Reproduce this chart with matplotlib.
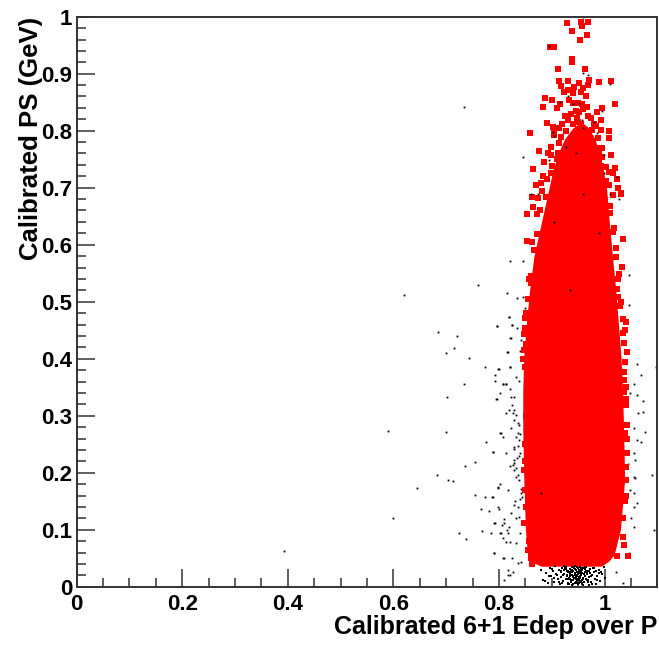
import numpy as np
import matplotlib
matplotlib.use("Agg")
import matplotlib.pyplot as plt
from matplotlib.ticker import MultipleLocator, FormatStrFormatter

plt.rcParams['font.family'] = ['Liberation Sans', 'DejaVu Sans']
plt.rcParams['font.weight'] = 'bold'

# dense red core, read as left/right edge per PS level
core_y = [0.036, 0.045, 0.056, 0.100, 0.188, 0.275, 0.346, 0.404, 0.463,
          0.521, 0.579, 0.638, 0.696, 0.730, 0.760, 0.785, 0.805, 0.815]
core_left = [0.880, 0.858, 0.854, 0.850, 0.847, 0.845, 0.845, 0.847, 0.852,
             0.858, 0.866, 0.880, 0.894, 0.902, 0.912, 0.924, 0.940, 0.955]
core_right = [0.994, 1.008, 1.018, 1.030, 1.038, 1.036, 1.034, 1.031, 1.026,
              1.021, 1.015, 1.009, 1.004, 0.998, 0.990, 0.982, 0.970, 0.957]

# red squares outside the core (sparse top and ragged edges)
red_x = [0.928, 0.955, 0.968, 0.957, 0.939, 0.966, 0.953, 0.896, 0.904, 0.939,
         0.939, 0.911, 0.962, 0.914, 0.931, 0.951, 0.970, 0.990, 1.013, 0.917,
         0.942, 0.960, 0.968, 0.923, 0.931, 0.940, 0.955, 0.964, 0.887, 0.900,
         0.932, 0.940, 0.949, 0.957, 0.883, 0.910, 0.915, 0.966, 1.019, 0.996,
         0.936, 0.951, 0.968, 0.985, 0.930, 0.949, 0.974, 0.994, 0.891, 0.902,
         0.914, 0.940, 0.955, 0.979, 0.859, 0.904, 0.927, 0.951, 0.977, 0.994,
         1.009, 0.917, 0.936, 0.964, 0.987, 1.008, 0.876, 0.898, 0.914, 0.985,
         0.996, 0.898, 0.911, 0.930, 0.996, 0.989, 0.864, 0.898, 0.917, 1.002,
         1.008, 0.879, 0.904, 0.989, 1.008, 1.024, 0.862, 0.889, 1.015, 1.032,
         0.853, 0.872, 0.864, 0.874, 1.032, 0.853, 0.862, 1.034, 1.033, 0.856,
         0.860, 1.023, 1.026, 0.851, 1.041, 0.849, 0.848, 1.038, 1.036, 1.043,
         1.036, 1.040, 1.036, 1.040, 1.043, 1.043, 1.041, 1.034, 1.036, 1.045,
         1.024, 0.848, 0.866, 0.855, 0.852, 0.850, 1.039, 1.042, 0.846, 0.849,
         0.945, 0.960, 0.975, 0.925, 0.948, 0.983, 0.920, 0.958, 0.978, 0.905,
         0.945, 0.968, 0.990, 0.910, 0.935, 0.962, 0.982, 0.900, 0.925, 0.950,
         0.972, 0.993, 0.890, 0.922, 0.955, 0.985, 1.003, 0.882, 0.912, 0.945,
         1.000, 1.010, 0.878, 0.890, 1.010, 1.018, 0.872, 0.880, 1.016, 1.022,
         0.866, 0.875, 1.021, 1.028, 0.860, 0.866, 1.026, 1.031, 0.855, 0.858,
         1.030, 1.035, 0.850, 0.852, 1.034, 1.038, 0.848, 1.037, 1.040, 0.849,
         0.850, 1.038, 1.041, 0.847, 1.040, 0.851, 1.035, 1.028, 0.856, 0.860,
         1.022, 1.012, 0.868, 0.870, 0.862, 0.885, 0.893, 1.012, 1.020, 0.870,
         1.025, 0.884, 1.015]
red_y = [0.989, 0.991, 0.991, 0.984, 0.975, 0.968, 0.960, 0.946, 0.947, 0.926,
         0.921, 0.909, 0.909, 0.888, 0.888, 0.884, 0.889, 0.886, 0.888, 0.879,
         0.877, 0.875, 0.881, 0.868, 0.872, 0.866, 0.868, 0.861, 0.858, 0.853,
         0.854, 0.849, 0.849, 0.847, 0.842, 0.840, 0.846, 0.842, 0.846, 0.839,
         0.830, 0.832, 0.826, 0.832, 0.819, 0.816, 0.823, 0.819, 0.814, 0.807,
         0.805, 0.811, 0.811, 0.811, 0.796, 0.796, 0.800, 0.802, 0.802, 0.802,
         0.800, 0.789, 0.788, 0.789, 0.788, 0.788, 0.765, 0.772, 0.779, 0.770,
         0.770, 0.758, 0.761, 0.763, 0.754, 0.749, 0.733, 0.726, 0.735, 0.737,
         0.728, 0.709, 0.705, 0.709, 0.705, 0.716, 0.684, 0.684, 0.688, 0.691,
         0.653, 0.653, 0.667, 0.682, 0.689, 0.607, 0.605, 0.610, 0.561, 0.540,
         0.533, 0.523, 0.509, 0.481, 0.465, 0.454, 0.444, 0.451, 0.428, 0.412,
         0.377, 0.351, 0.342, 0.319, 0.284, 0.235, 0.188, 0.088, 0.074, 0.054,
         0.053, 0.112, 0.060, 0.065, 0.300, 0.220, 0.150, 0.260, 0.400, 0.170,
         0.835, 0.838, 0.822, 0.825, 0.823, 0.808, 0.812, 0.795, 0.780, 0.792,
         0.776, 0.774, 0.764, 0.750, 0.745, 0.742, 0.752, 0.738, 0.722, 0.718,
         0.722, 0.738, 0.715, 0.700, 0.698, 0.702, 0.712, 0.695, 0.678, 0.672,
         0.676, 0.668, 0.660, 0.640, 0.655, 0.630, 0.618, 0.598, 0.622, 0.595,
         0.590, 0.565, 0.578, 0.548, 0.545, 0.520, 0.540, 0.500, 0.505, 0.478,
         0.492, 0.470, 0.472, 0.425, 0.445, 0.395, 0.415, 0.362, 0.330, 0.385,
         0.250, 0.270, 0.210, 0.205, 0.160, 0.140, 0.120, 0.130, 0.080, 0.050,
         0.100, 0.065, 0.045, 0.070, 0.040, 0.745, 0.760, 0.758, 0.735, 0.705,
         0.700, 0.720, 0.725]

# black events outside the red selection
blk_x = [0.684, 0.721, 0.699, 0.714, 0.744, 0.773, 0.733, 0.701, 0.589, 0.700,
         0.776, 0.789, 0.755, 0.735, 0.682, 0.704, 0.713, 0.644, 0.755, 0.774,
         0.787, 0.765, 0.782, 0.599, 0.793, 0.768, 0.724, 0.738, 0.791, 0.392,
         0.808, 0.825, 0.817, 0.821, 0.810, 0.796, 0.819, 0.825, 0.800, 0.821,
         0.793, 0.793, 0.808, 0.814, 0.802, 0.797, 0.815, 0.821, 0.801, 0.808,
         0.801, 0.799, 0.800, 0.801, 0.808, 0.805, 0.810, 0.815, 0.817, 0.814,
         0.820, 0.823, 0.829, 0.821, 0.829, 0.832, 0.826, 0.824, 0.829, 0.836,
         0.823, 0.836, 0.832, 0.838, 0.829, 0.836, 0.840, 0.835, 0.829, 0.829,
         0.826, 0.820, 0.832, 0.829, 0.836, 0.833, 0.838, 0.842, 0.843, 0.840,
         0.829, 0.836, 0.823, 0.832, 0.837, 0.840, 0.832, 0.836, 0.826, 0.830,
         0.837, 0.829, 0.839, 0.838, 0.842, 0.795, 0.813, 0.819, 0.804, 0.789,
         0.813, 0.798, 0.817, 0.789, 0.798, 0.791, 0.810, 0.819, 0.785, 0.804,
         0.791, 0.810, 0.817, 0.842, 0.821, 0.845, 0.815, 0.834, 0.845, 0.849,
         0.819, 0.796, 0.825, 0.834, 0.823, 0.842, 0.817, 0.840, 0.798, 0.821,
         0.808, 0.814, 0.832, 0.838, 0.733, 0.845, 0.761, 0.621,
         1.062, 1.073, 1.049, 1.064, 1.072, 1.055, 1.077, 1.062, 1.068, 1.055,
         1.058, 1.090, 1.055, 1.058, 1.049, 1.055, 1.062, 1.055, 1.055, 1.093,
         1.021, 1.034, 1.047, 1.047, 1.062, 1.098, 1.068, 1.055, 1.028, 1.046,
         1.050, 1.044]
blk_y = [0.447, 0.439, 0.410, 0.418, 0.402, 0.386, 0.356, 0.332, 0.274, 0.271,
         0.254, 0.237, 0.219, 0.212, 0.196, 0.188, 0.185, 0.174, 0.161, 0.158,
         0.158, 0.137, 0.132, 0.121, 0.111, 0.097, 0.095, 0.084, 0.060, 0.062,
         0.051, 0.051, 0.021, 0.021, 0.011, 0.458, 0.474, 0.460, 0.382, 0.386,
         0.372, 0.361, 0.356, 0.356, 0.340, 0.330, 0.412, 0.437, 0.270, 0.263,
         0.181, 0.174, 0.137, 0.095, 0.086, 0.109, 0.118, 0.100, 0.095, 0.079,
         0.079, 0.333, 0.333, 0.346, 0.310, 0.302, 0.305, 0.318, 0.293, 0.288,
         0.279, 0.270, 0.263, 0.258, 0.245, 0.247, 0.235, 0.225, 0.223, 0.217,
         0.214, 0.211, 0.209, 0.205, 0.196, 0.193, 0.188, 0.165, 0.158, 0.153,
         0.144, 0.140, 0.130, 0.121, 0.123, 0.095, 0.077, 0.042, 0.025, 0.150,
         0.229, 0.241, 0.268, 0.283, 0.172, 0.330, 0.305, 0.310, 0.270, 0.237,
         0.235, 0.175, 0.170, 0.158, 0.139, 0.112, 0.112, 0.104, 0.095, 0.095,
         0.060, 0.051, 0.029, 0.044, 0.572, 0.572, 0.516, 0.507, 0.509, 0.489,
         0.473, 0.458, 0.460, 0.454, 0.437, 0.433, 0.412, 0.414, 0.382, 0.386,
         0.356, 0.356, 0.368, 0.361, 0.842, 0.753, 0.530, 0.511,
         0.337, 0.325, 0.340, 0.305, 0.307, 0.279, 0.272, 0.258, 0.254, 0.235,
         0.223, 0.196, 0.193, 0.191, 0.170, 0.165, 0.147, 0.139, 0.104, 0.100,
         0.026, 0.007, 0.546, 0.495, 0.391, 0.386, 0.372, 0.356, 0.681, 0.060,
         0.120, 0.215]

# black pile-up below the red core (PS < 0.04)
low_x = [0.880, 0.884, 0.889, 0.893, 0.897, 0.899, 0.902, 0.905, 0.907, 0.909,
         0.911, 0.913, 0.915, 0.917, 0.918, 0.920, 0.921, 0.923, 0.924, 0.926,
         0.927, 0.929, 0.930, 0.931, 0.933, 0.934, 0.935, 0.936, 0.938, 0.939,
         0.940, 0.941, 0.942, 0.943, 0.944, 0.945, 0.946, 0.947, 0.948, 0.949,
         0.950, 0.951, 0.952, 0.953, 0.954, 0.955, 0.956, 0.957, 0.958, 0.959,
         0.960, 0.961, 0.962, 0.963, 0.964, 0.965, 0.966, 0.967, 0.969, 0.970,
         0.972, 0.973, 0.975, 0.977, 0.979, 0.981, 0.983, 0.986, 0.989, 0.992,
         0.996, 1.000, 0.936, 0.944, 0.952, 0.928, 0.958, 0.940, 0.948, 0.962,
         0.918, 0.932, 0.954, 0.966, 0.943, 0.951, 0.925, 0.938, 0.946, 0.957,
         0.904, 0.913, 0.971, 0.976, 0.935, 0.949, 0.960, 0.942, 0.931, 0.955,
         0.922, 0.926, 0.929, 0.933, 0.937, 0.939, 0.941, 0.945, 0.947, 0.950,
         0.953, 0.956, 0.959, 0.961, 0.964, 0.968, 0.974, 0.980, 0.985, 0.990,
         0.930, 0.934, 0.938, 0.942, 0.946, 0.950, 0.954, 0.958, 0.962, 0.966,
         0.920, 0.924, 0.928, 0.932, 0.936, 0.940, 0.944, 0.948, 0.952, 0.956,
         0.895, 0.900, 0.908, 0.916, 0.970, 0.978, 0.984, 0.994, 0.887, 0.998]
low_y = [0.030, 0.012, 0.024, 0.006, 0.033, 0.018, 0.027, 0.009, 0.036, 0.021,
         0.014, 0.030, 0.005, 0.025, 0.017, 0.033, 0.010, 0.022, 0.029, 0.013,
         0.035, 0.019, 0.007, 0.027, 0.016, 0.031, 0.023, 0.011, 0.034, 0.020,
         0.004, 0.028, 0.015, 0.036, 0.024, 0.009, 0.030, 0.018, 0.012, 0.033,
         0.022, 0.006, 0.027, 0.015, 0.035, 0.020, 0.010, 0.029, 0.024, 0.016,
         0.032, 0.008, 0.026, 0.019, 0.013, 0.034, 0.022, 0.028, 0.011, 0.017,
         0.031, 0.024, 0.008, 0.020, 0.033, 0.014, 0.027, 0.018, 0.030, 0.010,
         0.022, 0.016, 0.026, 0.031, 0.012, 0.021, 0.007, 0.017, 0.025, 0.035,
         0.028, 0.013, 0.019, 0.024, 0.006, 0.029, 0.032, 0.003, 0.021, 0.011,
         0.016, 0.008, 0.027, 0.005, 0.018, 0.014, 0.003, 0.034, 0.025, 0.031,
         0.020, 0.031, 0.014, 0.025, 0.008, 0.029, 0.019, 0.013, 0.035, 0.026,
         0.009, 0.032, 0.014, 0.023, 0.028, 0.009, 0.019, 0.026, 0.012, 0.024,
         0.004, 0.014, 0.026, 0.032, 0.017, 0.004, 0.024, 0.005, 0.031, 0.012,
         0.006, 0.036, 0.027, 0.004, 0.030, 0.012, 0.021, 0.006, 0.017, 0.028,
         0.019, 0.031, 0.023, 0.004, 0.003, 0.032, 0.005, 0.026, 0.010, 0.034]

# black events that show through gaps on top of the red squares
top_x = [0.960, 0.894, 0.959, 0.968, 1.011, 0.915, 0.930, 0.940, 0.951, 0.996,
         0.957, 0.979, 0.902, 0.904, 0.959, 0.985, 0.927, 0.945, 0.998, 0.894,
         0.998, 1.024, 0.861, 0.874, 0.960, 1.011, 0.935, 0.905, 0.990, 0.880]
top_y = [1.000, 0.949, 0.902, 0.898, 0.882, 0.851, 0.860, 0.846, 0.849, 0.835,
         0.819, 0.816, 0.798, 0.791, 0.804, 0.796, 0.772, 0.761, 0.758, 0.749,
         0.726, 0.719, 0.689, 0.689, 0.689, 0.689, 0.520, 0.640, 0.620, 0.165]

fig = plt.figure(figsize=(6.59, 6.45), dpi=100)
ax = fig.add_axes([76.6 / 659, 58.3 / 645, 580.8 / 659, 570 / 645])

ax.plot(blk_x, blk_y, 's', color='black', markersize=1.3, markeredgewidth=0)
ax.plot(low_x, low_y, 's', color='black', markersize=1.5, markeredgewidth=0)
ax.fill_betweenx(core_y, core_left, core_right, color='red', linewidth=0)
ax.plot(red_x, red_y, 's', color='red', markersize=4.3, markeredgewidth=0)
ax.plot(top_x, top_y, 's', color='black', markersize=1.3, markeredgewidth=0)

ax.set_xlim(0, 1.1)
ax.set_ylim(0, 1)
ax.xaxis.set_major_locator(MultipleLocator(0.2))
ax.xaxis.set_minor_locator(MultipleLocator(0.05))
ax.yaxis.set_major_locator(MultipleLocator(0.1))
ax.yaxis.set_minor_locator(MultipleLocator(0.02))
ax.xaxis.set_major_formatter(FormatStrFormatter('%g'))
ax.yaxis.set_major_formatter(FormatStrFormatter('%g'))
ax.tick_params(which='both', direction='in', top=False, right=False, width=1.1, colors='#333333')
ax.tick_params(which='major', length=13)
ax.tick_params(which='minor', length=6.5)
ax.tick_params(axis='x', which='major', pad=5, labelsize=16, labelcolor='black')
ax.tick_params(axis='y', which='major', pad=3, labelsize=16, labelcolor='black')
for s in ax.spines.values():
    s.set_linewidth(1.4)
    s.set_color('#333333')

fig.text(657.4 / 659, 1 - 627 / 645, 'Calibrated 6+1 Edep over P', ha='right', va='center',
         fontsize=18, fontweight='bold')
fig.text(31 / 659, 1 - 16.7 / 645, 'Calibrated PS (GeV)', rotation=90, ha='center', va='top',
         fontsize=18.5, fontweight='bold')

fig.savefig('out.png', dpi=100)
